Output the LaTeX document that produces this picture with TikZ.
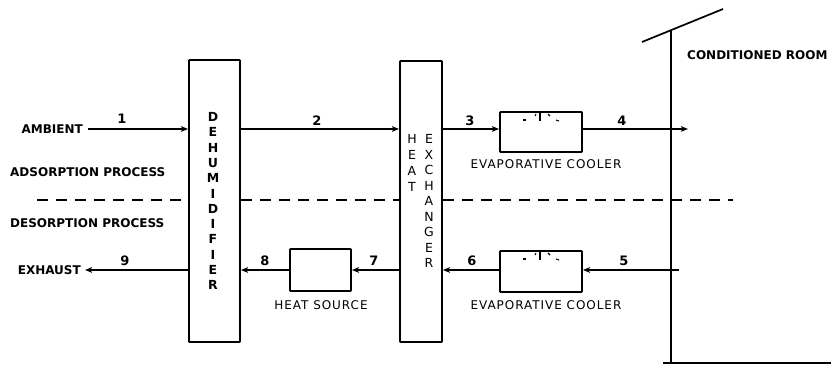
\documentclass[tikz,border=0pt]{standalone}
\usepackage{fontspec}
\setmainfont{DejaVu Sans}
\newfontfamily\spacedfont[LetterSpace=8]{DejaVu Sans}
\usetikzlibrary{arrows.meta}
\begin{document}
\begin{tikzpicture}[x=1pt,y=-1pt,
  box/.style={draw,line width=1.9pt,rounded corners=0.8pt,inner sep=0pt},
  flow/.style={line width=1.6pt,-{Stealth[length=7pt,width=5.5pt,inset=1.5pt]}},
  bl/.style={font=\bfseries\fontsize{12}{13}\selectfont,inner sep=0pt},
  rl/.style={font=\spacedfont\fontsize{12}{13}\selectfont,inner sep=0pt},
  num/.style={font=\bfseries\fontsize{13}{14}\selectfont,inner sep=0pt},
  vlet/.style={font=\bfseries\fontsize{12.5}{13}\selectfont,inner sep=0pt},
  vlr/.style={font=\fontsize{12.5}{13}\selectfont,inner sep=0pt},
  sepline/.style={line width=1.4pt,dash pattern=on 11pt off 8pt}]
\useasboundingbox (0,0) rectangle (831,366);
% boxes
\node[box,minimum width=51pt,minimum height=282pt] (dehum) at (214.5,201) {};
\node[box,minimum width=42pt,minimum height=281pt] (hx) at (421,201.5) {};
\node[box,minimum width=82pt,minimum height=40pt] (cool1) at (541,132) {};
\node[box,minimum width=82pt,minimum height=41pt] (cool2) at (541,271.5) {};
\node[box,minimum width=61pt,minimum height=42pt] (heat) at (320.5,270) {};
% vertical texts
\foreach \l [count=\i from 0] in {D,E,H,U,M,I,D,I,F,I,E,R}
  \node[vlet] at (213,117+15.3*\i) {\l};
\foreach \l [count=\i from 0] in {H,E,A,T}
  \node[vlr] at (412,139+16*\i) {\l};
\foreach \l [count=\i from 0] in {E,X,C,H,A,N,G,E,R}
  \node[vlr] at (429,139+15.5*\i) {\l};
% spray marks
\foreach \c/\yy in {cool1/0,cool2/139}{
  \draw[line width=1.1pt] (523,120+\yy) -- (526,120+\yy);
  \draw[line width=1.1pt] (535,116+\yy) -- (536,114+\yy);
  \draw[line width=1.3pt] (540,113+\yy) -- (540,121+\yy);
  \draw[line width=1.1pt] (548,114+\yy) -- (550,116+\yy);
  \draw[line width=1.1pt] (556,120+\yy) -- (559,121+\yy);
}
% labels
\node[bl,anchor=east] (amb) at (83,129) {AMBIENT};
\node[bl,anchor=east] (exh) at (81,270) {EXHAUST};
\node[bl,anchor=west] (ads) at (10,172) {ADSORPTION PROCESS};
\node[bl,anchor=west] (des) at (10,223) {DESORPTION PROCESS};
\node[rl] (ec1) at (546,164) {EVAPORATIVE COOLER};
\node[rl] (ec2) at (546,305) {EVAPORATIVE COOLER};
\node[rl] (hs) at (321,305) {HEAT SOURCE};
\node[bl,anchor=west] (room) at (687,55) {CONDITIONED ROOM};
% numbers
\node[num] (n1) at (122,119) {1};
\node[num] (n2) at (317,121) {2};
\node[num] (n3) at (470,121) {3};
\node[num] (n4) at (622,121) {4};
\node[num] (n5) at (624,261) {5};
\node[num] (n6) at (472,261) {6};
\node[num] (n7) at (374,261) {7};
\node[num] (n8) at (265,261) {8};
\node[num] (n9) at (125,261) {9};
% wall
\coordinate (wt) at (671,30);
\coordinate (wb) at (671,363);
\draw[line width=1.7pt] (642,42) -- (723,9);
\draw[line width=1.7pt] (wt) -- (wb);
\draw[line width=1.7pt] (663,363) -- (831,363);
% dashed separation
\draw[sepline] (37,200) -- (dehum.west |- 0,200);
\draw[sepline] (dehum.east |- 0,200) -- (hx.west |- 0,200);
\draw[sepline] (hx.east |- 0,200) -- (733,200);
% flows
\coordinate (c4) at (688,129);
\coordinate (c5) at (679,270);
\draw[flow] ([xshift=5pt]amb.east) -- (dehum.west |- 0,129);
\draw[flow] (dehum.east |- 0,129) -- (hx.west |- 0,129);
\draw[flow] (hx.east |- 0,129) -- (cool1.west |- 0,129);
\draw[flow] (cool1.east |- 0,129) -- (c4);
\draw[flow] (c5) -- (cool2.east |- 0,270);
\draw[flow] (cool2.west |- 0,270) -- (hx.east |- 0,270);
\draw[flow] (hx.west |- 0,270) -- (heat.east);
\draw[flow] (heat.west) -- (dehum.east |- 0,270);
\draw[flow] (dehum.west |- 0,270) -- ([xshift=4pt]exh.east);
\end{tikzpicture}
\end{document}
